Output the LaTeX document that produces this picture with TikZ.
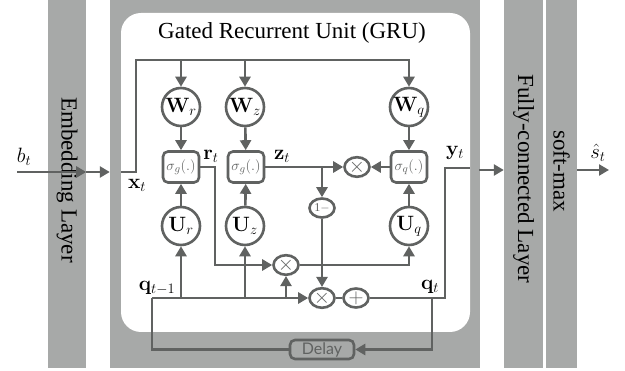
\documentclass[tikz,border=0pt]{standalone}
\usepackage[no-math]{fontspec}
\setmainfont{Liberation Serif}
\newfontfamily\delayfont{Lato}
\usetikzlibrary{arrows.meta,shapes.geometric}
\definecolor{linec}{RGB}{96,98,97}
\definecolor{barc}{RGB}{167,169,168}
\begin{document}
\begin{tikzpicture}[x=1pt,y=-1pt,
  every node/.style={font=\fontsize{22pt}{26pt}\selectfont},
  ln/.style={draw=linec, line width=2.6pt},
  arr/.style={ln, -{Triangle[length=10pt,width=11pt]}},
  barn/.style={fill=barc, draw=none, inner sep=0pt, minimum height=368pt},
  wc/.style={circle, ln, fill=white, minimum size=38pt, inner sep=0pt, font=\fontsize{21pt}{24pt}\selectfont},
  sg/.style={rectangle, ln, fill=white, rounded corners=5pt, minimum width=36pt, minimum height=31pt, inner sep=0pt, text=linec, font=\fontsize{15pt}{17pt}\selectfont},
  op/.style={ellipse, ln, fill=white, minimum width=25pt, minimum height=19pt, inner sep=0pt, text=linec, font=\fontsize{20pt}{22pt}\selectfont},
  lab/.style={inner sep=0pt, font=\fontsize{21pt}{24pt}\selectfont},
  bartext/.style={rotate=-90, inner sep=0pt, font=\fontsize{23pt}{27pt}\selectfont}
]
\useasboundingbox (0,0) rectangle (625,371);
% bars
\node[barn, minimum width=38pt] (emb) at (67,184) {};
\node[bartext] (embt) at (67,180) {Embedding Layer};
\node[barn, minimum width=370pt] (gru) at (295,184) {};
\node[fill=white, rounded corners=20pt, minimum width=349pt, minimum height=319pt, inner sep=0pt] (cell) at (295.5,172.5) {};
\node[font=\fontsize{23pt}{27pt}\selectfont] (title) at (292,33) {Gated Recurrent Unit (GRU)};
\node[barn, minimum width=39pt] (fc) at (523.5,184) {};
\node[bartext] (fct) at (523.5,179) {Fully-connected Layer};
\node[barn, minimum width=31pt] (sm) at (561.5,184) {};
\node[bartext] (smt) at (561.5,171) {soft-max};

% nodes
\node[wc] (Wr) at (181,107) {$\mathbf{W}_r$};
\node[wc] (Wz) at (245,107) {$\mathbf{W}_z$};
\node[wc] (Wq) at (409,107) {$\mathbf{W}_q$};
\node[sg] (sr) at (181,167) {$\sigma_g(.)$};
\node[sg] (sz) at (246,167) {$\sigma_g(.)$};
\node[sg] (sq) at (409,167) {$\sigma_q(.)$};
\node[wc] (Ur) at (181,226) {$\mathbf{U}_r$};
\node[wc] (Uz) at (245,226) {$\mathbf{U}_z$};
\node[wc] (Uq) at (409,226) {$\mathbf{U}_q$};
\node[op] (mx1) at (357,167) {$\times$};
\node[op, font=\fontsize{12pt}{14pt}\selectfont] (om) at (322,208) {1$-$};
\node[op] (mx2) at (286,265) {$\times$};
\node[op] (mx3) at (322,298) {$\times$};
\node[op] (pl) at (356,298) {$+$};
\node[rectangle, ln, rounded corners=5pt, minimum width=64pt, minimum height=19pt, inner sep=0pt, text=linec, font=\delayfont\fontsize{16pt}{18pt}\selectfont] (dl) at (322,349.5) {Delay};

% coordinates
\coordinate (bin) at (17,172);
\coordinate (xin) at (121,172);
\coordinate (xc) at (136,172);
\coordinate (top) at (136,60);
\coordinate (zb) at (322,167);
\coordinate (rc) at (215,167);
\coordinate (ql) at (152,298);
\coordinate (yc) at (445,298);
\coordinate (yo) at (470,168);
\coordinate (qd) at (432,298);
\coordinate (go) at (479,170);
\coordinate (sout) at (609,170);

% connectors
\draw[arr] (bin) -- (bin -| emb.east) ;
\draw[arr] (emb.east |- bin) -- (gru.west |- bin);
\draw[arr] (xin) -- (xc) -- (top) -| (Wq.north);
\draw[arr] (top -| Wr) -- (Wr.north);
\draw[arr] (top -| Wz) -- (Wz.north);
\draw[arr] (Wr) -- (sr);
\draw[arr] (Wz) -- (sz);
\draw[arr] (Wq) -- (sq);
\draw[arr] (Ur) -- (sr);
\draw[arr] (Uz) -- (sz);
\draw[arr] (Uq) -- (sq);
\draw[arr] (sz) -- (mx1);
\draw[arr] (sq) -- (mx1);
\draw[arr] (zb) -- (om);
\draw[arr] (om) -- (mx3);
\draw[arr] (sr.east) -- (rc) |- (mx2.west);
\draw[arr] (mx2.east) -| (Uq.south);
\draw[arr] (ql) -- (mx3.west);
\draw[arr] (ql -| Ur) -- (Ur.south);
\draw[arr] (ql -| Uz) -- (Uz.south);
\draw[arr] (ql -| mx2) -- (mx2.south);
\draw[ln] (mx3) -- (pl);
\draw[ln] (pl.east) -- (yc) -- (yc |- yo) -- (yo);
\draw[arr] (qd) |- (dl.east);
\draw[ln] (dl.west) -| (ql);
\draw[arr] (go) -- (go -| fc.west);
\draw[arr] (sm.east |- sout) -- (sout);

% labels
\node[lab] (lb) at (24,157) {$b_t$};
\node[lab] (lx) at (137,185) {$\mathbf{x}_t$};
\node[lab] (lr) at (211,156) {$\mathbf{r}_t$};
\node[lab] (lz) at (282,156) {$\mathbf{z}_t$};
\node[lab] (ly) at (455,153) {$\mathbf{y}_t$};
\node[lab] (lq1) at (157,288) {$\mathbf{q}_{t-1}$};
\node[lab] (lq) at (430,287) {$\mathbf{q}_t$};
\node[lab] (ls) at (598,153) {$\hat{s}_t$};
\end{tikzpicture}
\end{document}
